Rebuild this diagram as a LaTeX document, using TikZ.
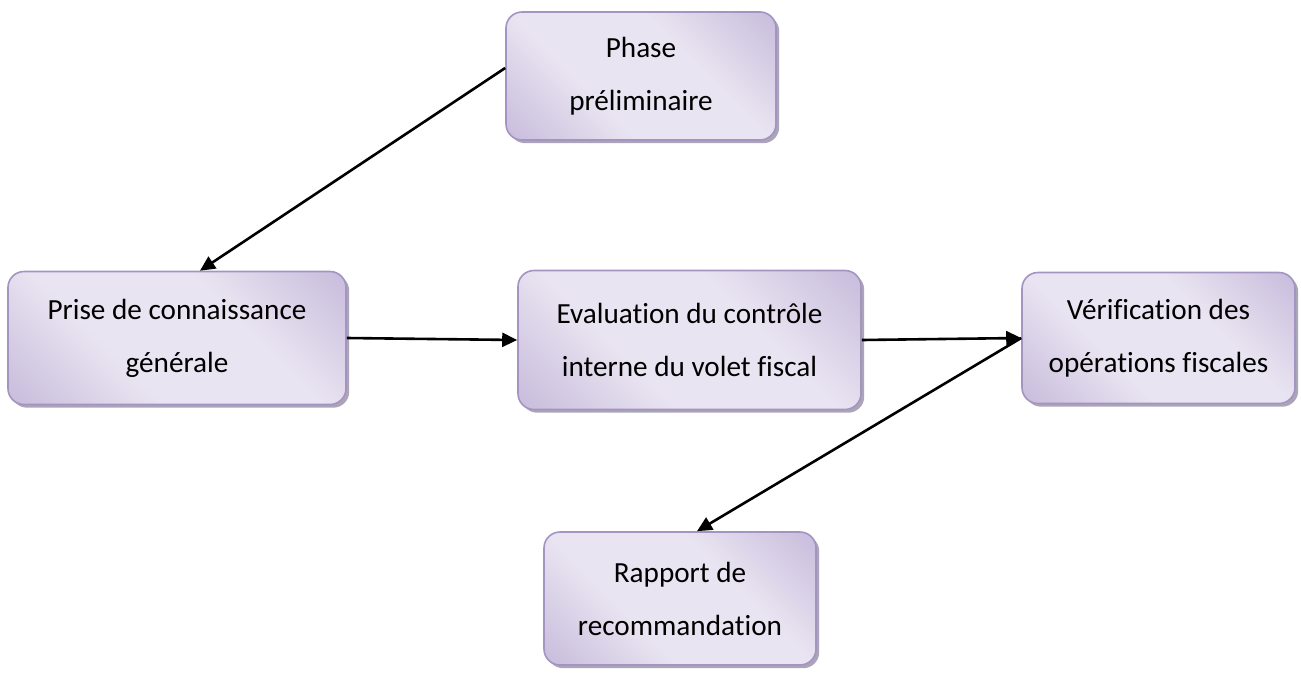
\documentclass[tikz,border=0pt]{standalone}
\usepackage{fontspec}
\setmainfont{Carlito}[Ligatures=NoCommon]
\usetikzlibrary{arrows.meta,positioning,calc,shadows}

\definecolor{boxdark}{RGB}{178,162,206}
\definecolor{boxlight}{RGB}{233,228,241}
\definecolor{boxedge}{RGB}{163,148,194}
\definecolor{boxshadow}{RGB}{150,142,165}

\pgfdeclareverticalshading{etapeshade}{100bp}{color(0bp)=(boxdark); color(38bp)=(boxlight);
  color(62bp)=(boxlight); color(100bp)=(boxdark)}

\begin{document}
\begin{tikzpicture}[x=0.5pt, y=-0.5pt,
    etape/.style={rectangle, rounded corners=8pt, draw=boxedge, line width=0.8pt,
      shading=etapeshade, shading angle=-45, align=center, inner sep=2pt,
      font=\fontsize{14.6}{26.5}\selectfont,
      drop shadow={shadow xshift=1.6pt, shadow yshift=-1.6pt, fill=boxshadow, opacity=0.8}},
    fleche/.style={-{Triangle[length=7.5pt,width=7pt]}, line width=1.3pt, black}]

  \useasboundingbox (0,0) rectangle (1301,675);

  % Boxes of the audit steps
  \node[etape, minimum width=135pt, minimum height=64pt] (phase) at (641,76) {Phase\\préliminaire};
  \node[etape, minimum width=169pt, minimum height=66.5pt] (prise) at (177,338) {Prise de connaissance\\générale};
  \node[etape, minimum width=171.5pt, minimum height=69.5pt] (evaluation) at (689.5,340) {Evaluation du contrôle\\interne du volet fiscal};
  \node[etape, minimum width=136.5pt, minimum height=65.5pt] (verification) at (1158.5,338) {Vérification des\\opérations fiscales};
  \node[etape, minimum width=136pt, minimum height=66.5pt] (rapport) at (680,598.5) {Rapport de\\recommandation};

  % Arrows between the steps
  \path[fleche]
    ($(phase.west)+(0,-8)$) edge ($(prise.north)+(23,0)$)
    (prise.east) edge (evaluation.west)
    (evaluation.east) edge (verification.west)
    (verification.west) edge ($(rapport.north)+(17,0)$);

\end{tikzpicture}
\end{document}
